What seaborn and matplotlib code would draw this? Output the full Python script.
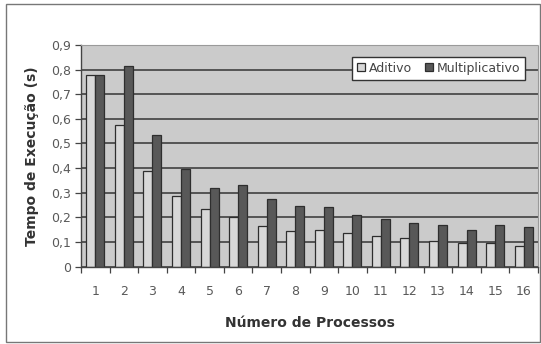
import numpy as np
import pandas as pd
import matplotlib
matplotlib.use("Agg")
import matplotlib.pyplot as plt
import seaborn as sns
from matplotlib.patches import Rectangle

# Execution time (s) per number of processes
processos = list(range(1, 17))
aditivo = [0.78, 0.575, 0.39, 0.285, 0.235, 0.20, 0.165, 0.145, 0.15, 0.135,
           0.125, 0.115, 0.105, 0.095, 0.095, 0.085]
multiplicativo = [0.78, 0.815, 0.535, 0.395, 0.32, 0.33, 0.275, 0.245, 0.24, 0.21,
                  0.195, 0.175, 0.17, 0.15, 0.17, 0.16]
series = ["Aditivo", "Multiplicativo"]
y_ticks = [0, 0.1, 0.2, 0.3, 0.4, 0.5, 0.6, 0.7, 0.8, 0.9]
y_tick_labels = ["0", "0,1", "0,2", "0,3", "0,4", "0,5", "0,6", "0,7", "0,8", "0,9"]

df = pd.DataFrame({
    "Processos": [str(p) for p in processos] * 2,
    "Tempo": aditivo + multiplicativo,
    "Serie": [series[0]] * len(processos) + [series[1]] * len(processos),
})

sns.set_theme(style="white")
plt.rcParams["font.family"] = ["DejaVu Sans"]

fig = plt.figure(figsize=(5.41, 3.44), dpi=100)
ax = fig.add_axes([81 / 541, 1 - 266.5 / 344, 457 / 541, 221.5 / 344])

light = "#d8d8d8"
dark = "#585858"
edge = "#2e2e2e"

ax.set_facecolor("#cbcbcb")
ax.set_axisbelow(True)
ax.yaxis.grid(True, color="#404040", linewidth=1.2)
ax.xaxis.grid(False)

sns.barplot(data=df, x="Processos", y="Tempo", hue="Serie",
            palette=[light, dark], width=0.63, edgecolor=edge, linewidth=0.9,
            saturation=1, ax=ax, legend=True)

ax.set_ylim(0, 0.9)
ax.set_xlim(-0.5, len(processos) - 0.5)
ax.set_yticks(y_ticks)
ax.set_yticklabels(y_tick_labels, color="#595959", fontsize=9)
ax.tick_params(axis="y", which="major", left=True, length=4, width=0.9,
               color="#444444", pad=3)

# labels centred under each category, tick marks at category boundaries
ax.set_xticks(range(len(processos)))
ax.set_xticklabels([str(p) for p in processos], color="#595959", fontsize=9)
ax.tick_params(axis="x", which="major", bottom=False, length=0, pad=13)
ax.set_xticks(np.arange(-0.5, len(processos), 1.0), minor=True)
ax.tick_params(axis="x", which="minor", bottom=True, length=4, width=0.9,
               color="#444444")

ax.set_xlabel("Número de Processos", fontsize=10, fontweight="bold",
              color="#333333", labelpad=13)
ax.set_ylabel("Tempo de Execução (s)", fontsize=10, fontweight="bold",
              color="#333333", labelpad=9)

for side in ["top", "right"]:
    ax.spines[side].set_color("#9a9a9a")
    ax.spines[side].set_linewidth(0.8)
    ax.spines[side].set_linestyle((0, (1, 1)))
for side in ["left", "bottom"]:
    ax.spines[side].set_color("#444444")
    ax.spines[side].set_linewidth(1.0)

handles, labels = ax.get_legend_handles_labels()
leg = ax.legend(handles, labels, ncol=2, loc="upper right",
                bbox_to_anchor=(0.972, 0.948), frameon=True, fancybox=False,
                fontsize=9, handlelength=0.6, handleheight=0.6,
                handletextpad=0.3, columnspacing=1.1, borderpad=0.4,
                borderaxespad=0)
leg.get_frame().set_edgecolor("#333333")
leg.get_frame().set_linewidth(1.0)
leg.get_frame().set_facecolor("white")
leg.get_frame().set_alpha(1)
for t in leg.get_texts():
    t.set_color("#444444")

# outer chart frame
fig.patches.append(Rectangle((6 / 541, 1 - 342 / 344), 534 / 541, 338 / 344,
                             transform=fig.transFigure, fill=False,
                             edgecolor="#777777", linewidth=1.0))

fig.savefig("out.png", dpi=100, facecolor="white")
